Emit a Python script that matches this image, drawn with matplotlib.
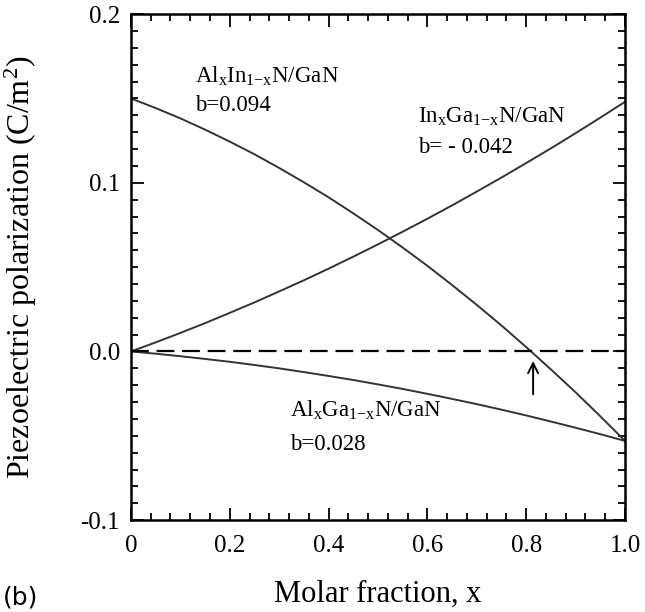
import numpy as np
import matplotlib
matplotlib.use("Agg")
import matplotlib.pyplot as plt
from matplotlib.ticker import MultipleLocator

plt.rcParams['font.family'] = ['Liberation Serif', 'DejaVu Serif']
plt.rcParams['mathtext.fontset'] = 'custom'
plt.rcParams['mathtext.rm'] = 'Liberation Serif'
plt.rcParams['mathtext.it'] = 'Liberation Serif'

# molar fraction and piezoelectric polarization (C/m2)
x = [0.0, 0.05, 0.1, 0.15, 0.2, 0.25, 0.3, 0.35, 0.4, 0.45, 0.5,
     0.55, 0.6, 0.65, 0.7, 0.75, 0.8, 0.85, 0.9, 0.95, 1.0]
alinn = [0.150, 0.1443, 0.1382, 0.1315, 0.1244, 0.1169, 0.1088, 0.1003, 0.0914, 0.0819, 0.0720,
         0.0616, 0.0508, 0.0394, 0.0276, 0.0154, 0.0026, -0.0106, -0.0242, -0.0384, -0.053]
ingan = [0.000, 0.0054, 0.0110, 0.0168, 0.0229, 0.0291, 0.0356, 0.0422, 0.0491, 0.0562, 0.0635,
         0.0710, 0.0787, 0.0866, 0.0948, 0.1031, 0.1117, 0.1204, 0.1294, 0.1386, 0.148]
algan = [0.000, -0.0013, -0.0028, -0.0044, -0.0061, -0.0080, -0.0100, -0.0122, -0.0145, -0.0169, -0.0195,
         -0.0222, -0.0251, -0.0281, -0.0312, -0.0345, -0.0379, -0.0415, -0.0452, -0.0490, -0.053]

zero_x = 0.814   # arrow marks where AlInN/GaN crosses zero

fig = plt.figure(figsize=(6.45, 6.12), dpi=100)
ax = fig.add_axes([0.203, 0.150, 0.766, 0.827])

lc = '#333333'
ax.plot(x, alinn, color=lc, lw=1.4)
ax.plot(x, ingan, color=lc, lw=1.4)
ax.plot(x, algan, color=lc, lw=1.4)
ax.axhline(0, color='black', lw=1.6, dashes=(8, 3.5))

ax.annotate('', xy=(zero_x, -0.004), xytext=(zero_x, -0.027),
            arrowprops=dict(arrowstyle='->', color='black', lw=1.4,
                            mutation_scale=18))

fs = 16.5
ax.text(0.130, 0.163, r'Al$_{\mathrm{x}}$In$_{\mathrm{1{-}x}}$N/GaN', fontsize=fs, va='center')
ax.text(0.130, 0.146, 'b=0.094', fontsize=fs, va='center')
ax.text(0.581, 0.139, r'In$_{\mathrm{x}}$Ga$_{\mathrm{1{-}x}}$N/GaN', fontsize=fs, va='center')
ax.text(0.581, 0.121, 'b= - 0.042', fontsize=fs, va='center')
ax.text(0.322, -0.035, r'Al$_{\mathrm{x}}$Ga$_{\mathrm{1{-}x}}$N/GaN', fontsize=fs, va='center')
ax.text(0.322, -0.055, 'b=0.028', fontsize=fs, va='center')

ax.set_xlim(0, 1.0)
ax.set_ylim(-0.1, 0.2)
ax.xaxis.set_minor_locator(MultipleLocator(0.04))
ax.yaxis.set_minor_locator(MultipleLocator(0.01))
ax.set_xticks([0, 0.2, 0.4, 0.6, 0.8, 1.0])
ax.set_xticklabels(['0', '0.2', '0.4', '0.6', '0.8', '1.0'])
ax.set_yticks([-0.1, 0.0, 0.1, 0.2])
ax.set_yticklabels(['-0.1', '0.0', '0.1', '0.2'])
ax.tick_params(which='both', direction='in', top=True, right=True,
               labelsize=18, width=1.3)
ax.tick_params(which='major', length=9, pad=8)
ax.tick_params(which='minor', length=5)
ax.tick_params(axis='x', which='major', pad=11)
for s in ax.spines.values():
    s.set_linewidth(1.8)

ax.set_xlabel('Molar fraction, x', fontsize=22, labelpad=16)
ax.set_ylabel(r'Piezoelectric polarization (C/m$^2$)', fontsize=23, labelpad=30)

fig.text(0.005, 0.012, '(b)', fontsize=18, family='DejaVu Sans')

fig.savefig('out.png', dpi=100)
